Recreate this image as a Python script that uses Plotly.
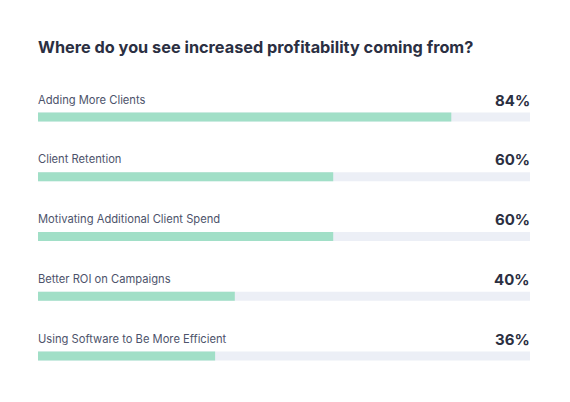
import plotly.graph_objects as go

categories = [
    "Adding More Clients",
    "Client Retention",
    "Motivating Additional Client Spend",
    "Better ROI on Campaigns",
    "Using Software to Be More Efficient",
]
values = [84, 60, 60, 40, 36]
value_labels = ["84%", "60%", "60%", "40%", "36%"]
title = "Where do you see increased profitability coming from?"

pos = list(range(len(categories)))

fig = go.Figure()
fig.add_trace(go.Bar(
    x=[100] * len(categories), y=pos, orientation="h", width=0.15,
    marker=dict(color="#eceff6", line=dict(width=0)), hoverinfo="skip",
))
fig.add_trace(go.Bar(
    x=values, y=pos, orientation="h", width=0.15,
    marker=dict(color="#a1dfc7", line=dict(width=0)),
))

for i, (c, lab) in enumerate(zip(categories, value_labels)):
    fig.add_annotation(x=0, y=i - 0.29, xref="x", yref="y", text=c, xshift=-2,
                       showarrow=False, xanchor="left", yanchor="middle",
                       font=dict(family="Inter, Roboto, sans-serif", size=11.2, color="#4d536b"))
    fig.add_annotation(x=100, y=i - 0.28, xref="x", yref="y", text="<b>" + lab + "</b>", xshift=2,
                       showarrow=False, xanchor="right", yanchor="middle",
                       font=dict(family="Inter, Roboto, sans-serif", size=15, color="#2b2f42"))

fig.add_annotation(x=0, y=1 + (78.5 - 38) / 300, xref="paper", yref="paper",
                   text="<b>" + title + "</b>", xshift=-2,
                   showarrow=False, xanchor="left", yanchor="middle",
                   font=dict(family="Inter, Roboto, sans-serif", size=16.3, color="#2b2f42"))

fig.update_layout(
    width=570, height=402,
    margin=dict(l=30, r=48, t=78.5, b=23.5),
    barmode="overlay",
    showlegend=False,
    paper_bgcolor="white", plot_bgcolor="white",
    xaxis=dict(range=[0, 100], visible=False, fixedrange=True),
    yaxis=dict(range=[4.5, -0.5], visible=False, fixedrange=True),
)

fig.write_html("out.html")
